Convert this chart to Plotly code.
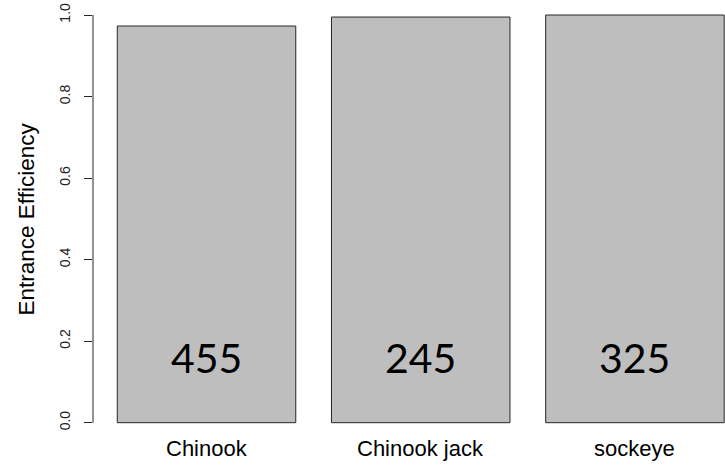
import plotly.graph_objects as go

categories = ["Chinook", "Chinook jack", "sockeye"]
efficiency = [0.973, 0.995, 1.0]
counts = ["455", "245", "325"]
y_ticks = [0.0, 0.2, 0.4, 0.6, 0.8, 1.0]
y_title = "Entrance Efficiency"

# R barplot layout: width 1, space 0.2
centers = [0.7 + 1.2 * i for i in range(len(categories))]

fig = go.Figure()
fig.add_trace(go.Bar(
    x=centers, y=efficiency, width=[1.0] * len(categories),
    marker=dict(color="#bebebe", line=dict(color="#262626", width=1)),
    hoverinfo="skip", showlegend=False,
))

annotations = []
for cx, n in zip(centers, counts):
    annotations.append(dict(
        x=cx, y=0.16, xref="x", yref="y", text=n, showarrow=False,
        font=dict(family="Lato", size=41, color="#000000"),
        xanchor="center", yanchor="middle",
    ))
for cx, c in zip(centers, categories):
    annotations.append(dict(
        x=cx, y=-0.021, xref="x", yref="paper", text=c, showarrow=False,
        font=dict(family="Liberation Sans", size=22, color="#000000"),
        xanchor="center", yanchor="middle",
    ))
annotations.append(dict(
    x=-0.106, y=0.5, xref="paper", yref="paper", text=y_title, showarrow=False,
    textangle=-90, font=dict(family="Liberation Sans", size=22.5, color="#000000"),
    xanchor="center", yanchor="middle",
))

fig.add_shape(type="line", xref="paper", yref="y", x0=0, x1=0,
              y0=min(y_ticks), y1=max(y_ticks),
              line=dict(color="#262626", width=1))

fig.update_layout(
    width=725, height=466,
    margin=dict(l=93, r=0, t=0, b=27),
    paper_bgcolor="white", plot_bgcolor="white",
    annotations=annotations,
    xaxis=dict(range=[0.064, 0.064 + 632 / 178.5], showgrid=False, zeroline=False,
               showline=False, showticklabels=False, ticks=""),
    yaxis=dict(range=[-0.04, 1.0368], showgrid=False, zeroline=False, showline=False,
               tickvals=y_ticks, ticktext=[f"{v:.1f}" for v in y_ticks],
               ticks="outside", ticklen=8, tickcolor="#262626", tickwidth=1,
               tickangle=-90, ticklabelstandoff=8,
               tickfont=dict(family="Liberation Sans", size=14, color="#222222")),
)

fig.write_html(
    "out.html",
    config={"displayModeBar": False},
    post_script="document.body.style.margin='0';document.body.style.padding='0';",
)
